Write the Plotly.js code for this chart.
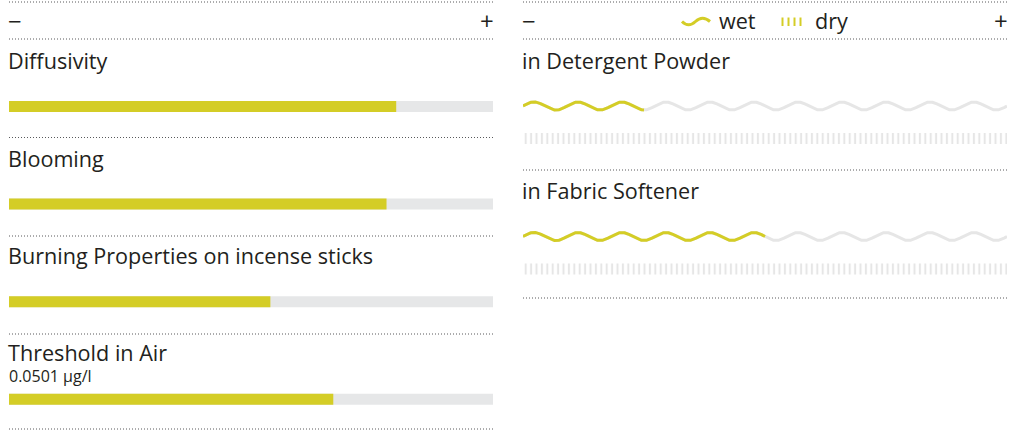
<!DOCTYPE html>
<html><head><meta charset="utf-8">
<script src="https://cdn.plot.ly/plotly-3.0.1.min.js"></script>
<style>html,body{margin:0;padding:0;background:#fff;overflow:hidden}#chart{width:1010px;height:433px}</style>
</head><body><div id="chart"></div>
<script>
// ---------- data ----------
const properties = ['Diffusivity', 'Blooming', 'Burning Properties on incense sticks', 'Threshold in Air'];
const propertyValues = [0.80, 0.78, 0.54, 0.67];
const propertyNotes = ['', '', '', '0.0501 µg/l'];
const applications = ['in Detergent Powder', 'in Fabric Softener'];
const wetValues = [0.25, 0.50];
const dryValues = [0, 0];
const scaleLabels = ['−', '+'];
const legendLabels = ['wet', 'dry'];
const scaleMax = 1;

// ---------- style / geometry ----------
const W = 1010, H = 433;
const YELLOW = '#d4cd26', GREY = '#e6e7e8', LIGHT = '#e6e6e6', INK = '#231f20', DOTC = '#58595b';
const FONT = 'Open Sans, sans-serif';
const FS = 21.6;
const LP = {x0: 9, x1: 493, c0: 106.5, step: 97.6};   // left panel
const RP = {x0: 523, x1: 1007, c0: 106, step: 130.5}; // right panel
const WAVES = 11, AMP = 4, DRY_OFF = 32.5, BAR_H = 11;

function yRange(g) { const a = -g.c0 / g.step; return [a + H / g.step, a]; }
const px = x => x / W, py = y => 1 - y / H;

const traces = [];
const rows = properties.map((_, i) => i);
traces.push({type: 'bar', orientation: 'h', y: rows, x: properties.map(() => scaleMax), base: 0,
  width: BAR_H / LP.step, marker: {color: GREY, line: {width: 0}}, xaxis: 'x', yaxis: 'y', hoverinfo: 'skip'});
traces.push({type: 'bar', orientation: 'h', y: rows, x: propertyValues, base: 0,
  width: BAR_H / LP.step, marker: {color: YELLOW, line: {width: 0}}, xaxis: 'x', yaxis: 'y', hoverinfo: 'skip'});

function wave(i, end, color) {
  const n = Math.max(2, Math.round(end * (RP.x1 - RP.x0) * 2) + 1);
  const xs = [], ys = [];
  for (let k = 0; k < n; k++) {
    const t = end * k / (n - 1);
    xs.push(t);
    ys.push(i - (AMP / RP.step) * Math.sin(2 * Math.PI * WAVES * t / scaleMax));
  }
  return {type: 'scatter', mode: 'lines', x: xs, y: ys, xaxis: 'x2', yaxis: 'y2',
    line: {color: color, width: 3}, hoverinfo: 'skip'};
}
applications.forEach((_, i) => {
  traces.push(wave(i, scaleMax, LIGHT));
  if (wetValues[i] > 0) traces.push(wave(i, wetValues[i], YELLOW));
});
const dryRows = applications.map((_, i) => i + DRY_OFF / RP.step);
traces.push({type: 'bar', orientation: 'h', y: dryRows, x: applications.map(() => scaleMax), base: 0,
  width: BAR_H / RP.step, xaxis: 'x2', yaxis: 'y2', hoverinfo: 'skip',
  marker: {color: 'white', line: {width: 0}, pattern: {shape: '|', fgcolor: LIGHT, bgcolor: 'white', size: 5.4, solidity: 0.37}}});
traces.push({type: 'bar', orientation: 'h', y: dryRows, x: dryValues, base: 0,
  width: BAR_H / RP.step, xaxis: 'x2', yaxis: 'y2', hoverinfo: 'skip',
  marker: {color: 'white', line: {width: 0}, pattern: {shape: '|', fgcolor: YELLOW, bgcolor: 'white', size: 5.4, solidity: 0.37}}});

// ---------- decorations ----------
const shapes = [];
function dotted(x0, x1, y) {
  shapes.push({type: 'line', xref: 'paper', yref: 'paper', x0: px(x0), x1: px(x1), y0: py(y), y1: py(y),
    line: {color: DOTC, width: 1, dash: '1px,2px'}});
}
[2, 39, 137.5, 236, 334, 429].forEach(y => dotted(LP.x0, LP.x1, y));
[2, 39, 170, 298].forEach(y => dotted(RP.x0, RP.x1, y));
// legend icons
const wp = [[682, 21.5], [688.5, 28], [695.5, 21.5], [710, 21.5]];
shapes.push({type: 'path', xref: 'paper', yref: 'paper',
  path: `M${px(wp[0][0])},${py(wp[0][1])} Q${px(wp[1][0])},${py(wp[1][1])} ${px(wp[2][0])},${py(wp[2][1])} T${px(wp[3][0])},${py(wp[3][1])}`,
  line: {color: YELLOW, width: 3}});
[782.5, 788.5, 794.5, 800.5].forEach(x => shapes.push({type: 'line', xref: 'paper', yref: 'paper',
  x0: px(x), x1: px(x), y0: py(17.5), y1: py(26), line: {color: YELLOW, width: 2}}));

const ann = [];
const txt = (o) => ann.push(Object.assign({showarrow: false, borderpad: 0, font: {family: FONT, size: FS, color: INK}}, o));
properties.forEach((p, i) => {
  txt({text: p, xref: 'x', x: 0, xshift: -2, yref: 'y', y: i, yshift: propertyNotes[i] ? 47 : 46, xanchor: 'left', yanchor: 'middle'});
  if (propertyNotes[i]) txt({text: propertyNotes[i], xref: 'x', x: 0, xshift: -1, yref: 'y', y: i, yshift: 23,
    xanchor: 'left', yanchor: 'middle', font: {family: FONT, size: 16, color: INK}});
});
applications.forEach((p, i) => {
  txt({text: p, xref: 'x2', x: 0, xshift: -2, yref: 'y2', y: i, yshift: 46, xanchor: 'left', yanchor: 'middle'});
});
[[LP.x0, LP.x1], [RP.x0, RP.x1]].forEach(([a, b]) => {
  txt({text: scaleLabels[0], xref: 'paper', x: px(a), xshift: -2, yref: 'paper', y: py(20), xanchor: 'left', yanchor: 'middle',
    font: {family: FONT, size: 24, color: INK}});
  txt({text: scaleLabels[1], xref: 'paper', x: px(b), xshift: 2, yref: 'paper', y: py(20), xanchor: 'right', yanchor: 'middle',
    font: {family: FONT, size: 24, color: INK}});
});
txt({text: legendLabels[0], xref: 'paper', x: px(718), yref: 'paper', y: py(20), xanchor: 'left', yanchor: 'middle'});
txt({text: legendLabels[1], xref: 'paper', x: px(814), yref: 'paper', y: py(20), xanchor: 'left', yanchor: 'middle'});

const hidden = {visible: false, fixedrange: true, showgrid: false, zeroline: false};
const layout = {
  width: W, height: H, margin: {l: 0, r: 0, t: 0, b: 0, pad: 0},
  paper_bgcolor: 'white', plot_bgcolor: 'white', showlegend: false, barmode: 'overlay',
  xaxis: Object.assign({domain: [px(LP.x0), px(LP.x1)], range: [0, scaleMax], anchor: 'y'}, hidden),
  yaxis: Object.assign({domain: [0, 1], range: yRange(LP), anchor: 'x'}, hidden),
  xaxis2: Object.assign({domain: [px(RP.x0), px(RP.x1)], range: [0, scaleMax], anchor: 'y2'}, hidden),
  yaxis2: Object.assign({domain: [0, 1], range: yRange(RP), anchor: 'x2'}, hidden),
  shapes: shapes, annotations: ann
};
Plotly.newPlot('chart', traces, layout, {staticPlot: true, displayModeBar: false});
</script></body></html>
